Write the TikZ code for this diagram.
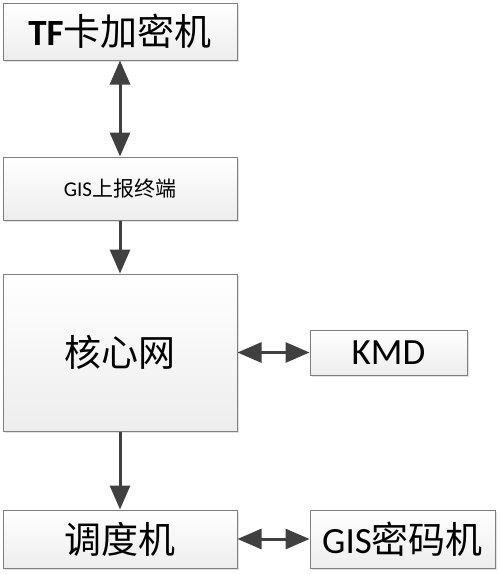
\documentclass[tikz,border=0pt]{standalone}
\usepackage{fontspec}
\setmainfont{Carlito}
\newfontfamily\cjk{Noto Sans CJK SC}
\usetikzlibrary{arrows.meta,shadows}
\definecolor{arrowgray}{HTML}{404040}
\definecolor{boxline}{HTML}{7F7F7F}
\tikzset{
  unitbox/.style={draw=boxline, line width=1pt, top color=white, bottom color=gray!14,
    drop shadow={shadow xshift=2pt, shadow yshift=-2pt, fill=gray!45},
    inner sep=0pt, font=\fontsize{37}{40}\selectfont},
  link/.style={draw=arrowgray, line width=3pt,
    -{Triangle[length=24pt,width=20pt]}},
  duallink/.style={link, {Triangle[length=24pt,width=20pt]}-{Triangle[length=24pt,width=20pt]}}
}
\begin{document}
\begin{tikzpicture}[x=1pt,y=-1pt]
  \useasboundingbox (0,0) rectangle (500,574);
  % left column
  \node [unitbox, minimum width=234pt, minimum height=57pt]  (tf)   at (120,31.5)  {{\bfseries TF}{\cjk 卡加密机}};
  \node [unitbox, minimum width=234pt, minimum height=63pt, font=\fontsize{21}{24}\selectfont] (gis)  at (120,188.5) {GIS{\cjk 上报终端}};
  \node [unitbox, minimum width=234pt, minimum height=157pt] (core) at (120,352.5) {\cjk 核心网};
  \node [unitbox, minimum width=234pt, minimum height=58pt]  (disp) at (120,539)   {\cjk 调度机};
  % right column
  \node [unitbox, minimum width=157pt, minimum height=45pt]  (kmd)  at (388.5,352.5) {KMD};
  \node [unitbox, minimum width=185pt, minimum height=58pt]  (gmm)  at (402.5,539)   {GIS{\cjk 密码机}};
  % connectors
  \draw [duallink] (tf.south) -- (gis.north);
  \draw [link] (gis.south) -- (core.north);
  \draw [link] (core.south) -- (disp.north);
  \draw [duallink] (core.east) -- (kmd.west);
  \draw [duallink] (disp.east) -- (gmm.west);
\end{tikzpicture}
\end{document}
